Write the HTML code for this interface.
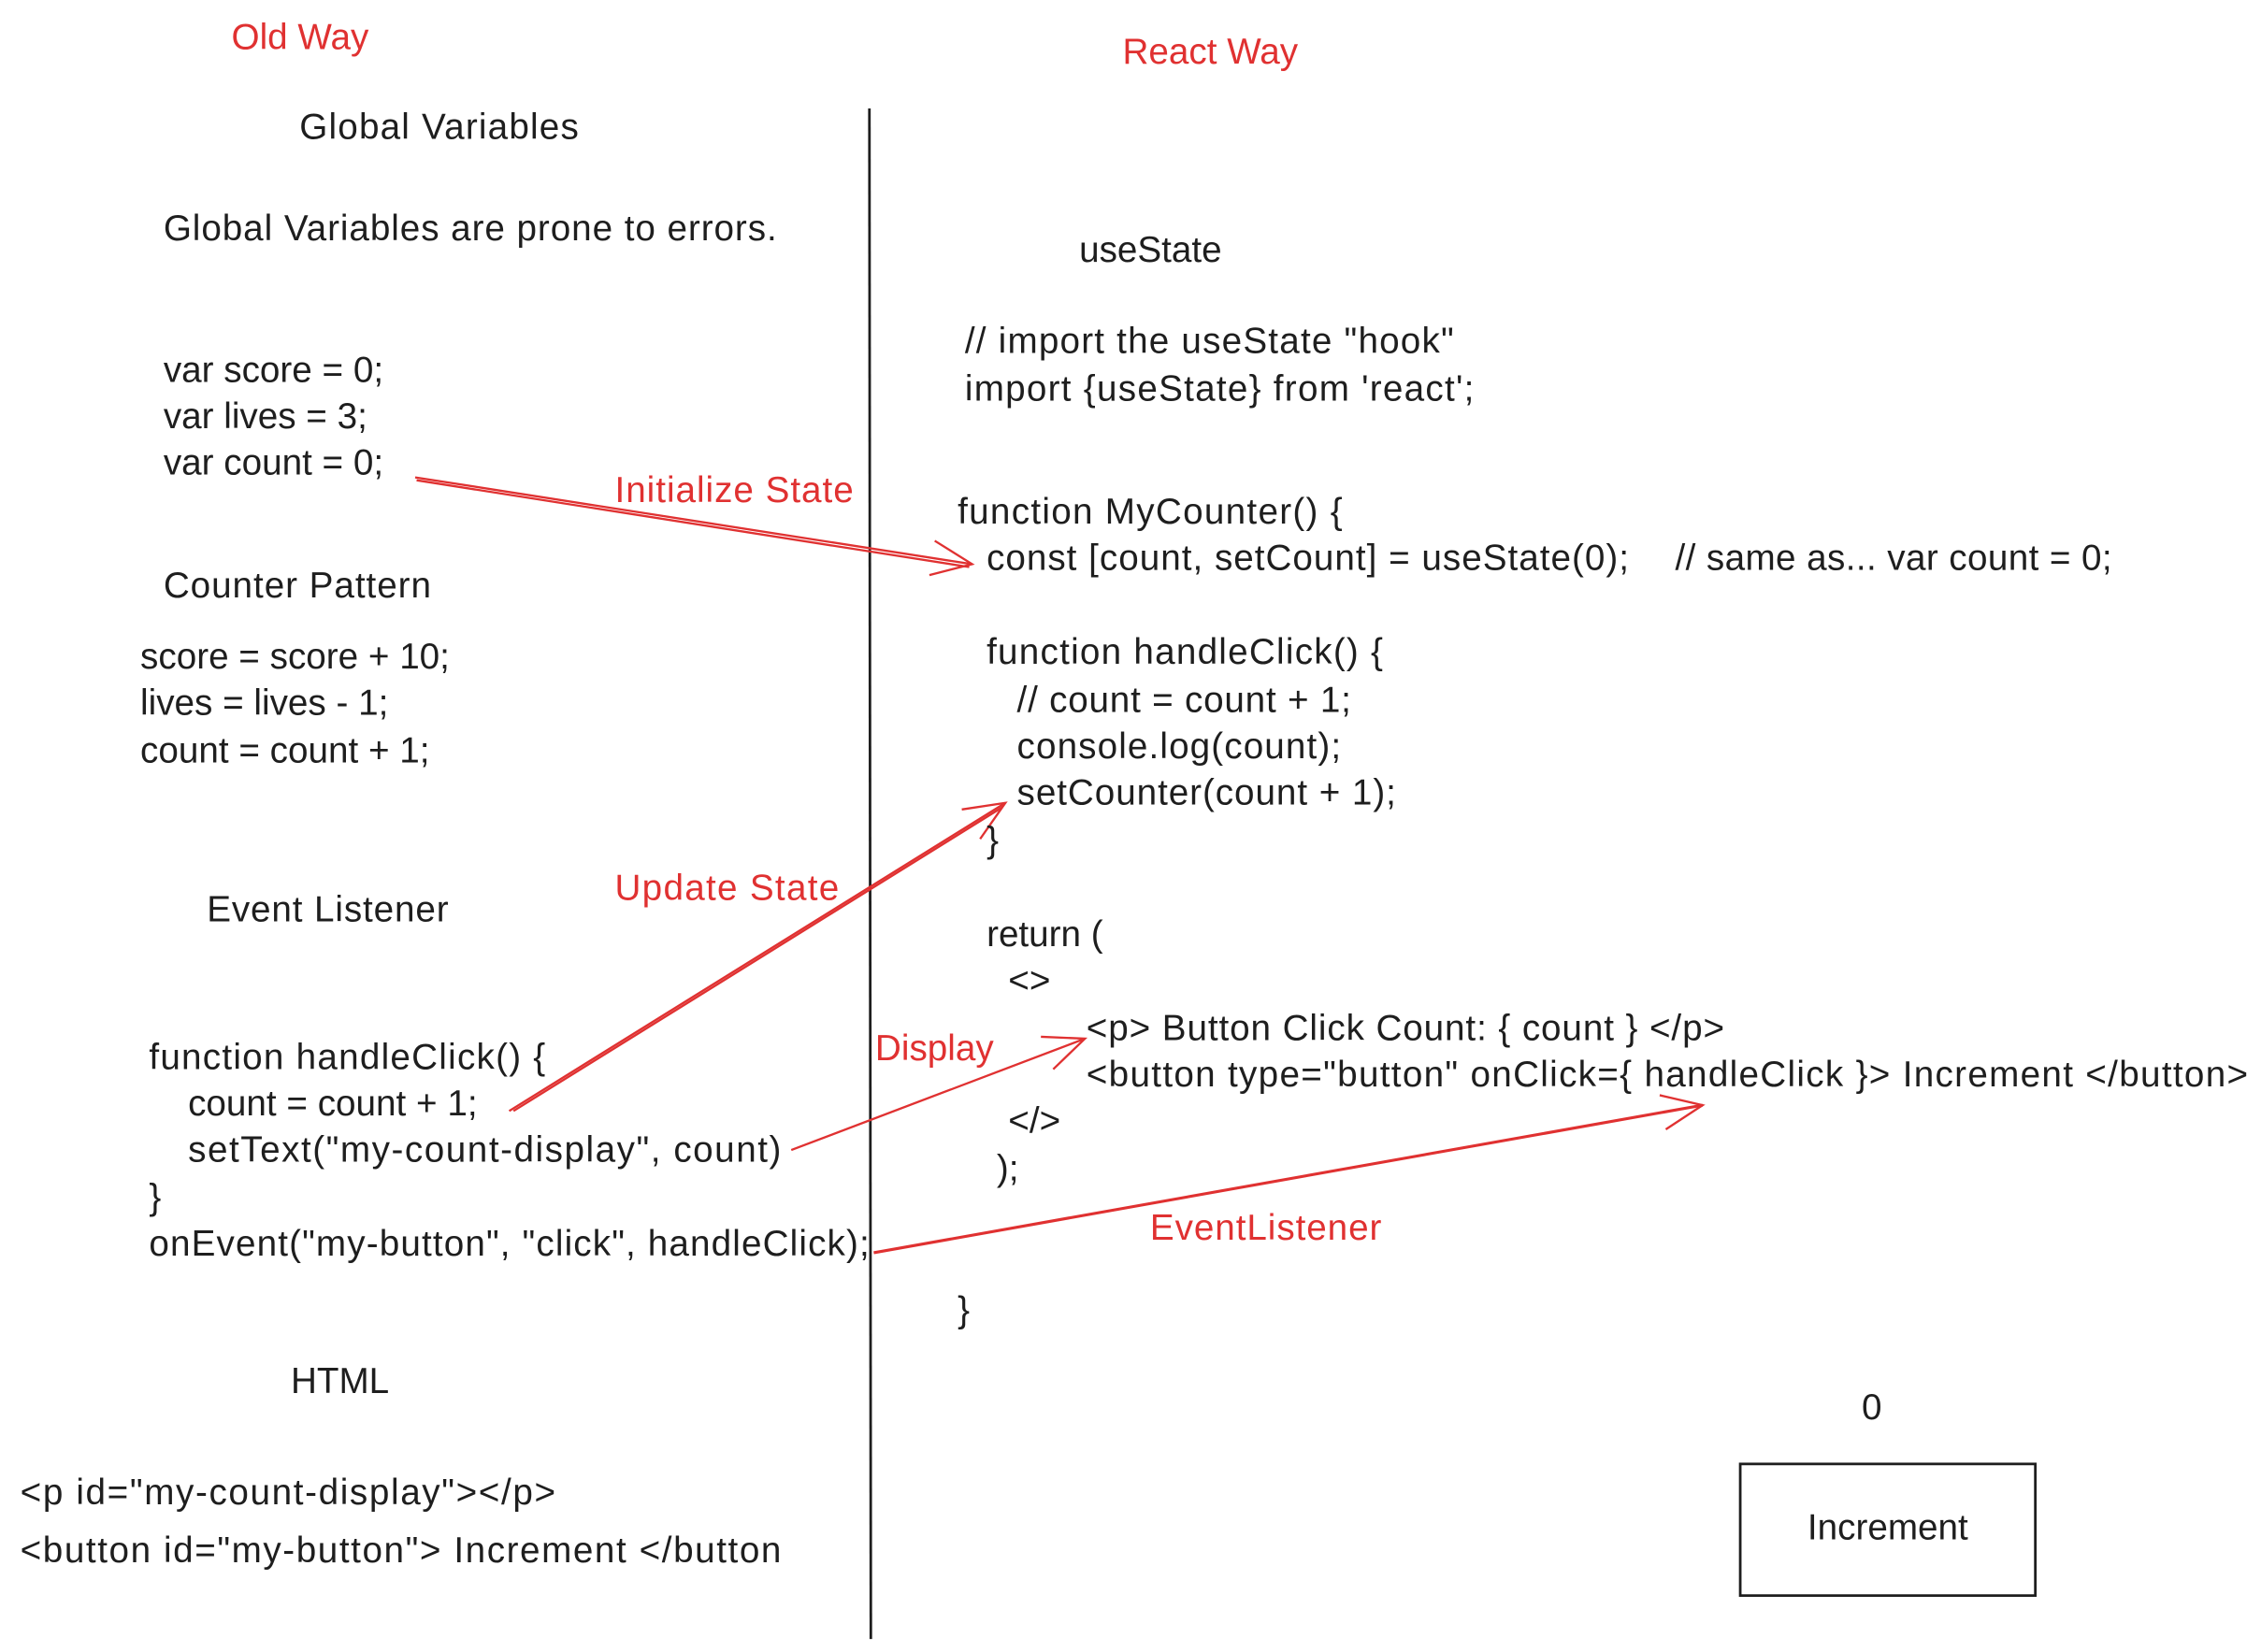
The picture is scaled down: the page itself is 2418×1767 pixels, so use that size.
<!DOCTYPE html>
<html><head><meta charset="utf-8"><style>
html,body{margin:0;padding:0;background:#fff;}
svg{display:block;}
text{font-family:"Liberation Sans",sans-serif;font-size:25px;fill:#1e1e1e;}
.r{fill:#e03131;}
</style></head><body>
<svg width="2418" height="1767" viewBox="0 0 1563 1142" preserveAspectRatio="none">
<defs>
<marker id="a" markerUnits="userSpaceOnUse" markerWidth="40" markerHeight="40" refX="30" refY="15" orient="auto">
<path d="M2,3 L30,15 L2,27" fill="none" stroke="#e03131" stroke-width="1.5"/>
</marker>
</defs>
<line x1="601" y1="75" x2="602" y2="1133" stroke="#1e1e1e" stroke-width="1.8"/>
<g stroke="#e03131" stroke-width="1.5" fill="none">
<line x1="287" y1="330" x2="672" y2="390" marker-end="url(#a)"/>
<line x1="288" y1="332" x2="670" y2="392"/>
<line x1="352" y1="768" x2="695" y2="555" marker-end="url(#a)"/>
<line x1="355" y1="768" x2="693" y2="558"/>
<line x1="547" y1="795" x2="750" y2="718" marker-end="url(#a)"/>
<line x1="604" y1="866" x2="1177" y2="764" marker-end="url(#a)" stroke-width="2"/>
</g>
<rect x="1203" y="1012" width="204" height="91" fill="none" stroke="#1e1e1e" stroke-width="1.8"/>
<g transform="translate(0,-2)">
<text class="r" x="160" y="36">Old Way</text>
<text class="r" x="776" y="46">React Way</text>
<text x="207" y="98" textLength="193">Global Variables</text>
<text x="113" y="168" textLength="424">Global Variables are prone to errors.</text>
<text x="113" y="266">var score = 0;</text>
<text x="113" y="298">var lives = 3;</text>
<text x="113" y="330">var count = 0;</text>
<text class="r" x="425" y="349" textLength="165">Initialize State</text>
<text x="113" y="415" textLength="185">Counter Pattern</text>
<text x="97" y="464">score = score + 10;</text>
<text x="97" y="496">lives = lives - 1;</text>
<text x="97" y="529">count = count + 1;</text>
<text class="r" x="425" y="624" textLength="155">Update State</text>
<text x="143" y="639" textLength="167">Event Listener</text>
<text x="103" y="741" textLength="274">function handleClick() {</text>
<text x="130" y="773">count = count + 1;</text>
<text x="130" y="805" textLength="410">setText("my-count-display", count)</text>
<text x="103" y="838">}</text>
<text x="103" y="870" textLength="498">onEvent("my-button", "click", handleClick);</text>
<text x="201" y="965">HTML</text>
<text x="14" y="1042" textLength="370">&lt;p id="my-count-display"&gt;&lt;/p&gt;</text>
<text x="14" y="1082" textLength="526">&lt;button id="my-button"&gt; Increment &lt;/button</text>
<text x="746" y="183">useState</text>
<text x="667" y="246" textLength="338">// import the useState "hook"</text>
<text x="667" y="279" textLength="352">import {useState} from 'react';</text>
<text x="662" y="364" textLength="266">function MyCounter() {</text>
<text x="682" y="396" textLength="444">const [count, setCount] = useState(0);</text>
<text x="1158" y="396" textLength="302">// same as... var count = 0;</text>
<text x="682" y="461" textLength="274">function handleClick() {</text>
<text x="703" y="494" textLength="231">// count = count + 1;</text>
<text x="703" y="526" textLength="224">console.log(count);</text>
<text x="703" y="558" textLength="262">setCounter(count + 1);</text>
<text x="682" y="591">}</text>
<text x="682" y="656">return (</text>
<text x="697" y="688">&lt;&gt;</text>
<text x="751" y="721" textLength="441">&lt;p&gt; Button Click Count: { count } &lt;/p&gt;</text>
<text x="751" y="753" textLength="803">&lt;button type="button" onClick={ handleClick }&gt; Increment &lt;/button&gt;</text>
<text x="697" y="785">&lt;/&gt;</text>
<text x="689" y="818">);</text>
<text class="r" x="605" y="735">Display</text>
<text class="r" x="795" y="859" textLength="160">EventListener</text>
<text x="662" y="916">}</text>
<text x="1287" y="983">0</text>
<text x="1305" y="1066" text-anchor="middle">Increment</text>
</g>
</svg>
</body></html>
